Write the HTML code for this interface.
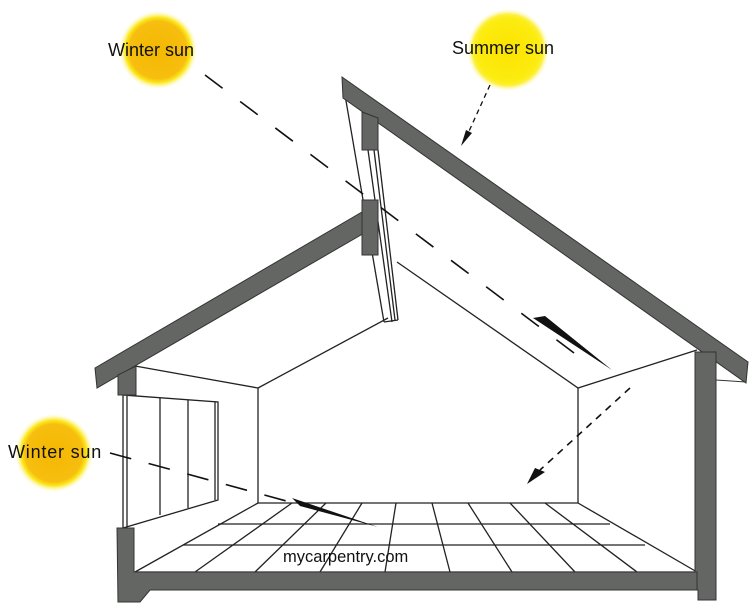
<!DOCTYPE html>
<html><head><meta charset="utf-8"><style>
html,body{margin:0;padding:0;background:#fff;}
svg{display:block;}
text{font-family:"Liberation Sans",sans-serif;font-size:18px;fill:#111;}
</style></head><body>
<svg width="750" height="606" viewBox="0 0 750 606" xmlns="http://www.w3.org/2000/svg">
<defs>
<radialGradient id="ws" cx="50%" cy="50%" r="50%">
<stop offset="0" stop-color="#f4b800"/><stop offset="0.72" stop-color="#f7be10"/><stop offset="0.82" stop-color="#fbe81a"/><stop offset="1" stop-color="#fff" stop-opacity="0"/>
</radialGradient>
<radialGradient id="ss" cx="50%" cy="50%" r="50%">
<stop offset="0" stop-color="#fbe300"/><stop offset="0.75" stop-color="#fcec10"/><stop offset="0.85" stop-color="#fdf040"/><stop offset="1" stop-color="#fff" stop-opacity="0"/>
</radialGradient>
</defs>
<circle cx="158" cy="50" r="40" fill="url(#ws)"/>
<circle cx="508" cy="50" r="42" fill="url(#ss)"/>
<circle cx="54" cy="453" r="40" fill="url(#ws)"/>
<text x="108" y="56">Winter sun</text>
<text x="452" y="54">Summer sun</text>
<text x="8" y="458" style="letter-spacing:0.8px">Winter sun</text>

<g stroke="#222" fill="none" stroke-width="1.3">
<polyline points="135,366 258,388 258,503"/>
<line x1="258" y1="388" x2="388" y2="318"/>
<polyline points="397,262 578,388 697,350"/>
<line x1="578" y1="388" x2="578" y2="503"/>
<line x1="258" y1="503" x2="578" y2="503"/>
<polygon points="123,395 218,402 218,500 123,528"/>
<line x1="127" y1="396" x2="127" y2="527"/>
<line x1="160" y1="398" x2="160" y2="515"/>
<line x1="188" y1="400" x2="188" y2="508"/>
<line x1="215" y1="402" x2="215" y2="500"/>
<line x1="135" y1="572" x2="697" y2="572"/>
<line x1="218" y1="524" x2="610" y2="524"/>
<line x1="183" y1="545" x2="645" y2="545"/>
<line x1="135" y1="572" x2="258" y2="503"/>
<line x1="578" y1="503" x2="697" y2="572"/>
<line x1="195" y1="572" x2="292" y2="503"/>
<line x1="255" y1="572" x2="326" y2="503"/>
<line x1="320" y1="572" x2="362" y2="503"/>
<line x1="385" y1="572" x2="396" y2="503"/>
<line x1="450" y1="572" x2="432" y2="503"/>
<line x1="512" y1="572" x2="468" y2="503"/>
<line x1="575" y1="572" x2="510" y2="503"/>
<line x1="637" y1="572" x2="545" y2="503"/>
<line x1="345" y1="95" x2="384" y2="322"/>
<line x1="368" y1="150" x2="392" y2="322"/>
<line x1="378" y1="150" x2="398" y2="320"/>
<line x1="374" y1="150" x2="395" y2="320"/>
<line x1="384" y1="322" x2="398" y2="320"/>
</g>

<g fill="#636663" stroke="#333" stroke-width="1">
<polygon points="95,368 362,212 366,232 97,388"/>
<polygon points="118,375 136,366 136,395 118,395"/>
<polygon points="342,77 748,362 746,383 343,98"/>
<polygon points="362,112 378,118 378,150 362,150"/>
<polygon points="362,200 378,200 378,255 362,255"/>
<polygon points="695,352 716,352 716,600 698,600 698,590 695,590"/>
<polygon points="117,528 134,528 134,572 697,572 697,590 150,590 140,602 118,602"/>
</g>
<line x1="716" y1="380" x2="746" y2="382" stroke="#333"/>

<g stroke="#111" stroke-width="1.6" fill="none">
<line x1="205" y1="75" x2="590" y2="365" stroke-dasharray="22,22"/>
<line x1="490" y1="85" x2="465" y2="140" stroke-dasharray="5,4" stroke-width="1.3"/>
<line x1="630" y1="388" x2="540" y2="470" stroke-dasharray="7,6" stroke-width="1.6"/>
<line x1="110" y1="453" x2="290" y2="502" stroke-dasharray="22,18"/>
</g>
<polygon points="533,318 545,316 612,370" fill="#111"/>
<polygon points="461,146 466,130 472,133" fill="#111"/>
<polygon points="527,484 535,468 545,472" fill="#111"/>
<polygon points="292,498 300,506 378,527" fill="#111"/>
<text x="283" y="562" style="font-size:16.5px">mycarpentry.com</text>
</svg>
</body></html>
